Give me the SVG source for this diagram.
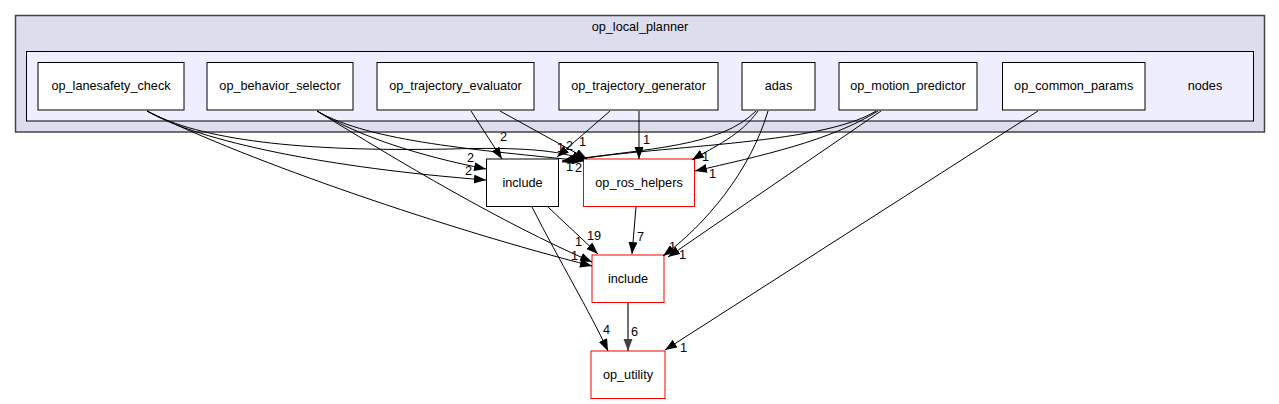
<svg xmlns="http://www.w3.org/2000/svg" width="1279" height="404" viewBox="0 0 1279 404">
<style>
text{font-family:"Liberation Sans",Arial,sans-serif;font-size:12.7px;fill:#000}
.c{text-anchor:middle}
.node{fill:#fff;stroke:#000;stroke-width:1}
.red{fill:#fff;stroke:#ff0000;stroke-width:1}
.e{fill:none;stroke:#000;stroke-width:1}
</style>
<defs>
<marker id="ah" markerUnits="userSpaceOnUse" markerWidth="14" markerHeight="12" refX="12" refY="4.5" orient="auto"><path d="M0,0 L12,4.5 L0,9 Z" fill="#000"/></marker>
<marker id="ahg" markerUnits="userSpaceOnUse" markerWidth="14" markerHeight="12" refX="12" refY="4.5" orient="auto"><path d="M0,0 L12,4.5 L0,9 Z" fill="#404040"/></marker>
</defs>
<g id="cluster_op_local_planner">
<rect x="15.5" y="15.5" width="1249" height="116.5" fill="#ddddee" stroke="#444" stroke-width="1.5"/>
<text class="c" x="640" y="31">op_local_planner</text>
</g>
<g id="cluster_nodes">
<rect x="26.5" y="51.5" width="1227" height="69.5" fill="#eeeeff" stroke="#000"/>
<text class="c" x="1205" y="90">nodes</text>
</g>
<g id="node_op_lanesafety_check"><rect class="node" x="38" y="62.5" width="146" height="47.5"/><text class="c" x="111" y="90">op_lanesafety_check</text></g>
<g id="node_op_behavior_selector"><rect class="node" x="207" y="62.5" width="146" height="47.5"/><text class="c" x="280" y="90">op_behavior_selector</text></g>
<g id="node_op_trajectory_evaluator"><rect class="node" x="377" y="62.5" width="157" height="47.5"/><text class="c" x="455.5" y="90">op_trajectory_evaluator</text></g>
<g id="node_op_trajectory_generator"><rect class="node" x="559" y="62.5" width="159" height="47.5"/><text class="c" x="638.5" y="90">op_trajectory_generator</text></g>
<g id="node_adas"><rect class="node" x="742" y="62.5" width="73" height="47.5"/><text class="c" x="778.5" y="90">adas</text></g>
<g id="node_op_motion_predictor"><rect class="node" x="839" y="62.5" width="138" height="47.5"/><text class="c" x="908" y="90">op_motion_predictor</text></g>
<g id="node_op_common_params"><rect class="node" x="1002.5" y="62.5" width="142.5" height="47.5"/><text class="c" x="1073.7" y="90">op_common_params</text></g>
<g id="node_include_local"><rect class="node" x="486.5" y="159" width="72" height="47.5"/><text class="c" x="522.5" y="187">include</text></g>
<g id="node_op_ros_helpers"><rect class="red" x="583.5" y="159" width="111" height="47.5"/><text class="c" x="639" y="187">op_ros_helpers</text></g>
<g id="node_include_planner"><rect class="red" x="592" y="255" width="72" height="47.5"/><text class="c" x="628" y="283">include</text></g>
<g id="node_op_utility"><rect class="red" x="591" y="351" width="74" height="47.5"/><text class="c" x="628" y="379">op_utility</text></g>
<g id="connectors">
<path class="e" marker-end="url(#ah)" d="M147,111 C200,142 330,168 486,180"/>
<path class="e" marker-end="url(#ah)" d="M147,111 C200,140 300,152 450,149 C520,147 560,150 584,160"/>
<path class="e" marker-end="url(#ah)" d="M147,111 C250,162 450,230 592,266"/>
<path class="e" marker-end="url(#ah)" d="M317,111 C360,137 420,156 486,169"/>
<path class="e" marker-end="url(#ah)" d="M317,111 C370,142 480,150 584,161"/>
<path class="e" marker-end="url(#ah)" d="M317,111 C400,162 500,222 592,262"/>
<path class="e" marker-end="url(#ah)" d="M471,111 L502,159"/>
<path class="e" marker-end="url(#ah)" d="M500,111 L587,159"/>
<path class="e" marker-end="url(#ah)" d="M610,111 L557,157"/>
<path class="e" marker-end="url(#ah)" d="M639,111 L639,159"/>
<path class="e" marker-end="url(#ah)" d="M756,111 C720,147 650,148 562,161"/>
<path class="e" marker-end="url(#ah)" d="M758,111 C740,136 715,146 692,160"/>
<path class="e" marker-end="url(#ah)" d="M768,111 C750,172 705,225 663,256"/>
<path class="e" marker-end="url(#ah)" d="M876,111 C820,146 650,145 562,162"/>
<path class="e" marker-end="url(#ah)" d="M878,111 C830,141 760,156 695,171"/>
<path class="e" marker-end="url(#ah)" d="M881,111 L668,257"/>
<path class="e" marker-end="url(#ah)" d="M1038,111 L665,350"/>
<path class="e" marker-end="url(#ah)" d="M548,207 L598,254"/>
<path class="e" marker-end="url(#ah)" d="M636,207 L632,254"/>
<path class="e" marker-end="url(#ah)" d="M532,207 C560,262 590,312 608,351"/>
<path class="e" marker-end="url(#ahg)" style="stroke:#404040;stroke-width:1.5" d="M628,303 L628,351"/>
<text x="467" y="162">2</text>
<text x="465" y="175">2</text>
<text x="500" y="141">2</text>
<text x="579" y="146">1</text>
<text x="557" y="152">1</text>
<text x="566" y="150">2</text>
<text x="566" y="171">1</text>
<text x="575" y="172">2</text>
<text x="643" y="144">1</text>
<text x="702" y="161">1</text>
<text x="709" y="178">1</text>
<text x="575" y="246">1</text>
<text x="571" y="260">1</text>
<text x="587" y="240">19</text>
<text x="637" y="241">7</text>
<text x="669" y="251">1</text>
<text x="679" y="259">1</text>
<text x="603" y="334">4</text>
<text x="631" y="336">6</text>
<text x="680" y="352">1</text>
</g>
</svg>
